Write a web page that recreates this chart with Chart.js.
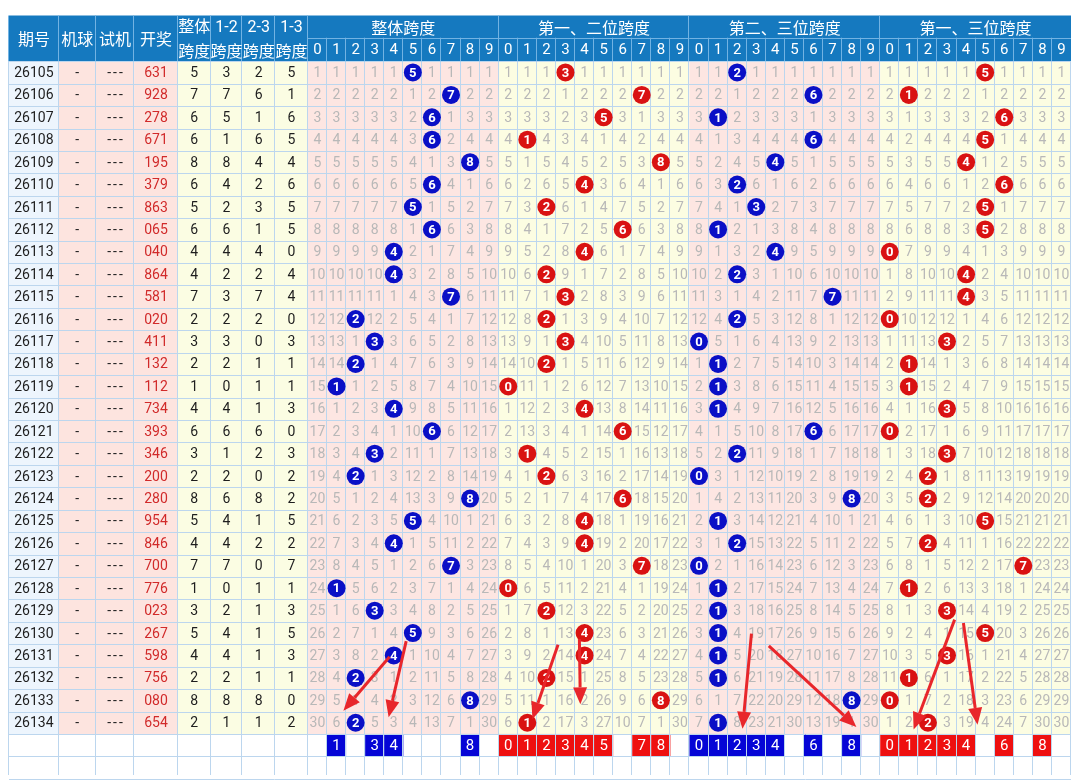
<!DOCTYPE html>
<html>
<head>
<meta charset="utf-8">
<script src="https://cdn.jsdelivr.net/npm/chart.js@4.4.0/dist/chart.umd.min.js"></script>
<style>
  html, body { margin: 0; padding: 0; background: #fff; }
  #chart { display: block; }
</style>
</head>
<body>
<canvas id="chart" width="1080" height="784"></canvas>
<script>
// table data
const periods = ["26105","26106","26107","26108","26109","26110","26111","26112","26113","26114",
  "26115","26116","26117","26118","26119","26120","26121","26122","26123","26124",
  "26125","26126","26127","26128","26129","26130","26131","26132","26133","26134"];
const draws = ["631","928","278","671","195","379","863","065","040","864",
  "581","020","411","132","112","734","393","346","200","280",
  "954","846","700","776","023","267","598","756","080","654"];
const spanAll = [5,7,6,6,8,6,5,6,4,4,7,2,3,2,1,4,6,3,2,8,5,4,7,1,3,5,4,2,8,2];
const span12  = [3,7,5,1,8,4,2,6,4,2,3,2,3,2,0,4,6,1,2,6,4,4,7,0,2,4,4,2,8,1];
const span23  = [2,6,1,6,4,2,3,1,4,2,7,2,0,1,1,1,6,2,0,8,1,2,0,1,1,1,1,1,8,1];
const span13  = [5,1,6,5,4,6,5,5,0,4,4,0,3,1,1,3,0,3,2,2,5,2,7,1,3,5,3,1,0,2];
const digits = ["0","1","2","3","4","5","6","7","8","9"];
const groupTitles = ["整体跨度","第一、二位跨度","第二、三位跨度","第一、三位跨度"];
const leftHeaders = ["期号","机球","试机","开奖","整体\n跨度","1-2\n跨度","2-3\n跨度","1-3\n跨度"];
const picks = [[1,3,4,8],[0,1,2,3,4,5,7,8],[0,1,2,3,4,6,8],[0,1,2,3,4,6,8]];
// hand-drawn arrows: [fromX, fromRow, toX, toRow] in cell units
const arrows = [
  [4.28,26.56,1.86,28.96],[5.15,25.86,4.23,29.26],
  [13.11,26.02,11.77,29.34],[14.23,25.77,14.28,28.68],
  [23.25,25.53,22.78,29.77],[24.16,26.07,28.75,29.69],
  [33.90,24.90,31.75,29.80],[34.36,25.05,35.10,29.59]
];

const groupHits = [spanAll, span12, span23, span13];
const circleColors = ["#0a0fc6","#d91212","#0a0fc6","#d91212"];
const boxColors = ["#0505d6","#ee1010","#0505d6","#ee1010"];

// layout in cell units (x: 0 = first 0-9 column, y: 0 = first data row)
const leftEdges = [-15.67,-13.06,-11.12,-9.11,-6.82,-5.10,-3.44,-1.72,0];
const headTop = -2.04, headMid = -1.05;
const numFont = '14px Roboto, "Noto Sans", sans-serif';
const cjkFont = '16px "Noto Sans CJK SC", sans-serif';

const tablePlugin = {
  id: "table",
  beforeDatasetsDraw(chart) {
    const { ctx } = chart;
    const xs = chart.scales.x, ys = chart.scales.y;
    const px = v => xs.getPixelForValue(v);
    const py = v => ys.getPixelForValue(v);
    const rows = periods.length;
    const yEnd = ys.max;

    ctx.save();
    // body backgrounds
    const leftBg = ["#edf5fd","#fde4df","#fde4df","#fde4df","#fbfde3","#fbfde3","#fbfde3","#fbfde3"];
    leftBg.forEach((c, i) => {
      ctx.fillStyle = c;
      ctx.fillRect(px(leftEdges[i]), py(0), px(leftEdges[i + 1]) - px(leftEdges[i]), py(rows) - py(0));
    });
    for (let g = 0; g < 4; g++) {
      ctx.fillStyle = g % 2 === 0 ? "#fde6e2" : "#fcfde2";
      ctx.fillRect(px(g * 10), py(0), px(g * 10 + 10) - px(g * 10), py(rows) - py(0));
    }
    // selection boxes
    picks.forEach((list, g) => {
      ctx.fillStyle = boxColors[g];
      list.forEach(d => {
        ctx.fillRect(px(g * 10 + d), py(rows), px(g * 10 + d + 1) - px(g * 10 + d), py(rows + 1) - py(rows));
      });
    });
    // header background
    ctx.fillStyle = "#1579bf";
    ctx.fillRect(px(xs.min), py(headTop), px(40) - px(xs.min), py(0) - py(headTop));

    // body grid lines
    ctx.strokeStyle = "#bcd6ee";
    ctx.lineWidth = 1;
    ctx.beginPath();
    for (let r = 0; r <= Math.ceil(yEnd); r++) {
      const yy = Math.round(py(r)) + 0.5;
      ctx.moveTo(px(xs.min), yy); ctx.lineTo(px(40), yy);
    }
    const vlines = leftEdges.concat(Array.from({ length: 40 }, (_, i) => i + 1));
    vlines.forEach(v => {
      const xx = Math.round(px(v)) - 0.5;
      ctx.moveTo(xx, py(0)); ctx.lineTo(xx, py(yEnd));
    });
    ctx.stroke();

    // header lines
    ctx.strokeStyle = "#72b3e3";
    ctx.beginPath();
    let yy = Math.round(py(headMid)) + 0.5;
    ctx.moveTo(px(0), yy); ctx.lineTo(px(40), yy);
    leftEdges.forEach(v => {
      const xx = Math.round(px(v)) - 0.5;
      ctx.moveTo(xx, py(headTop)); ctx.lineTo(xx, py(0));
    });
    for (let i = 1; i < 40; i++) {
      const xx = Math.round(px(i)) - 0.5;
      ctx.moveTo(xx, i % 10 === 0 ? py(headTop) : py(headMid)); ctx.lineTo(xx, py(0));
    }
    ctx.stroke();

    // header text
    ctx.fillStyle = "#ffffff";
    ctx.textAlign = "center";
    ctx.textBaseline = "middle";
    leftHeaders.forEach((t, i) => {
      const cx = (px(leftEdges[i]) + px(leftEdges[i + 1])) / 2;
      const parts = t.split("\n");
      if (parts.length === 1) {
        ctx.font = cjkFont;
        ctx.fillText(parts[0], cx, py((headTop) / 2) + 1);
      } else {
        ctx.font = '16px Roboto, "Noto Sans CJK SC", sans-serif';
        ctx.fillText(parts[0], cx, py((headTop + headMid) / 2) + 1);
        ctx.font = cjkFont;
        ctx.fillText(parts[1], cx, py(headMid / 2) + 1);
      }
    });
    groupTitles.forEach((t, g) => {
      ctx.font = cjkFont;
      ctx.fillText(t, px(g * 10 + 5), py((headTop + headMid) / 2) + 1);
      ctx.font = '15px Roboto, sans-serif';
      digits.forEach((d, i) => ctx.fillText(d, px(g * 10 + i + 0.5), py(headMid / 2) + 1));
    });

    // left columns text
    ctx.font = numFont;
    periods.forEach((p, r) => {
      const cy = py(r + 0.5) + 1;
      const mid = i => (px(leftEdges[i]) + px(leftEdges[i + 1])) / 2;
      ctx.fillStyle = "#1e1e1e";
      ctx.fillText(p, mid(0), cy);
      ctx.fillText("-", mid(1), cy);
      ctx.letterSpacing = "2px";
      ctx.fillText("---", mid(2) + 1, cy);
      ctx.letterSpacing = "0px";
      ctx.fillStyle = "#d12a2a";
      ctx.fillText(draws[r], mid(3), cy);
      ctx.fillStyle = "#1e1e1e";
      groupHits.forEach((vals, k) => ctx.fillText(String(vals[r]), mid(4 + k), cy));
    });

    // omission counts
    ctx.fillStyle = "#b8b8b8";
    groupHits.forEach((vals, g) => {
      const last = new Array(10).fill(-1);
      vals.forEach((v, r) => {
        for (let d = 0; d < 10; d++) {
          if (d === v) { last[d] = r; continue; }
          ctx.fillText(String(r - last[d]), px(g * 10 + d + 0.5), py(r + 0.5) + 1);
        }
      });
    });

    // selection digits
    ctx.fillStyle = "#ffffff";
    ctx.font = '15px Roboto, sans-serif';
    picks.forEach((list, g) => {
      list.forEach(d => ctx.fillText(digits[d], px(g * 10 + d + 0.5), py(rows + 0.5) + 1));
    });
    ctx.restore();
  },
  afterDatasetsDraw(chart) {
    const { ctx } = chart;
    const xs = chart.scales.x, ys = chart.scales.y;
    ctx.save();
    ctx.fillStyle = "#ffffff";
    ctx.font = 'bold 13px Roboto, sans-serif';
    ctx.textAlign = "center";
    ctx.textBaseline = "middle";
    groupHits.forEach((vals, g) => {
      const meta = chart.getDatasetMeta(g);
      meta.data.forEach((pt, r) => ctx.fillText(String(vals[r]), pt.x, pt.y + 1));
    });
    // arrows
    ctx.strokeStyle = "#e8262b";
    ctx.fillStyle = "#e8262b";
    ctx.lineWidth = 3;
    arrows.forEach(a => {
      const x1 = xs.getPixelForValue(a[0]), y1 = ys.getPixelForValue(a[1]);
      const x2 = xs.getPixelForValue(a[2]), y2 = ys.getPixelForValue(a[3]);
      const ang = Math.atan2(y2 - y1, x2 - x1);
      const hl = 17, hw = 7;
      const bx = x2 - hl * Math.cos(ang), by = y2 - hl * Math.sin(ang);
      ctx.beginPath();
      ctx.moveTo(x1, y1); ctx.lineTo(bx, by);
      ctx.stroke();
      ctx.beginPath();
      ctx.moveTo(x2, y2);
      ctx.lineTo(bx + hw * Math.sin(ang), by - hw * Math.cos(ang));
      ctx.lineTo(bx - hw * Math.sin(ang), by + hw * Math.cos(ang));
      ctx.closePath();
      ctx.fill();
    });
    ctx.restore();
  }
};

new Chart(document.getElementById("chart"), {
  type: "scatter",
  data: {
    datasets: groupHits.map((vals, g) => ({
      label: groupTitles[g],
      data: vals.map((v, r) => ({ x: g * 10 + v + 0.5, y: r + 0.5 })),
      pointRadius: 9,
      pointHoverRadius: 9,
      backgroundColor: circleColors[g],
      borderWidth: 0
    }))
  },
  options: {
    responsive: false,
    animation: false,
    devicePixelRatio: 1,
    layout: { padding: 0 },
    plugins: { legend: { display: false }, tooltip: { enabled: false } },
    scales: {
      x: { type: "linear", min: -15.67, max: 40, display: false },
      y: { type: "linear", min: -2.33, max: 31.83, reverse: true, display: false }
    }
  },
  plugins: [tablePlugin]
});
</script>
</body>
</html>
